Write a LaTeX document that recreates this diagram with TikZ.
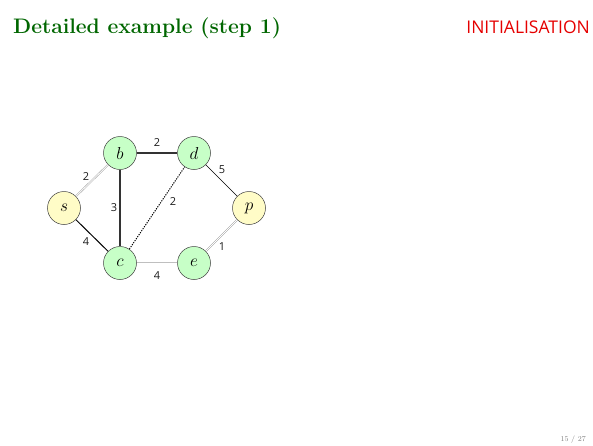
\documentclass[tikz,border=0pt]{standalone}
\usepackage{fontspec}
\newfontfamily\sansf{Open Sans}
\begin{document}
\begin{tikzpicture}[x=1pt,y=-1pt,
  vtx/.style={circle,draw=black!75,line width=0.5pt,minimum size=33pt,inner sep=0pt,font=\fontsize{17}{17}\selectfont},
  gv/.style={vtx,fill=green!22},
  yv/.style={vtx,fill=yellow!22},
  lbl/.style={font=\sansf\fontsize{11}{11}\selectfont,inner sep=0pt,text=black!90},
  dbl/.style={draw=gray!90,double=white,double distance=0.9pt,line width=0.4pt},
  dbllight/.style={draw=gray!50,double=white,double distance=0.9pt,line width=0.4pt},
  heavy/.style={draw=black!80,line width=1.4pt},
  mid/.style={draw=black,line width=1pt},
  dot/.style={draw=black,line width=1pt,dash pattern=on 1.2pt off 1.2pt},
  thinl/.style={draw=black,line width=0.6pt}]
\useasboundingbox (0,0) rectangle (593,445);
\node[anchor=base west,text=green!40!black,inner sep=0pt,font=\fontsize{21}{22}\selectfont\bfseries] (title) at (13,33) {Detailed example (step 1)};
\node[anchor=base east,text=red!90!black,inner sep=0pt,font=\sansf\fontsize{17.5}{18}\selectfont] (head) at (590,33) {INITIALISATION};
\node[anchor=base east,text=gray,inner sep=0pt,font=\fontsize{7.5}{7.5}\selectfont] (pg) at (586,441) {15 / 27};
\node[yv] (s) at (64,208) {$s$};
\node[gv] (b) at (120,153) {$b$};
\node[gv] (d) at (194,153) {$d$};
\node[yv] (p) at (249,208) {$p$};
\node[gv] (c) at (120,263) {$c$};
\node[gv] (e) at (194,263) {$e$};
\draw[dbl] (s) -- (b);
\draw[mid] (s) -- (c);
\draw[heavy] (b) -- (c);
\draw[heavy] (b) -- (d);
\draw[dot] (c) -- (d);
\draw[thinl] (d) -- (p);
\draw[dbl] (p) -- (e);
\draw[dbllight] (c) -- (e);
\node[lbl] (l1) at (86,177) {2};
\node[lbl] (l2) at (157,143) {2};
\node[lbl] (l3) at (114,208) {3};
\node[lbl] (l4) at (173,202) {2};
\node[lbl] (l5) at (222,170) {5};
\node[lbl] (l6) at (222,247) {1};
\node[lbl] (l7) at (86,242) {4};
\node[lbl] (l8) at (157,276) {4};
\end{tikzpicture}
\end{document}
